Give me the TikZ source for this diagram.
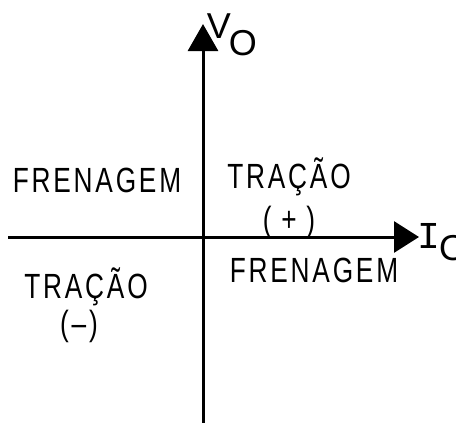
\documentclass[tikz,border=0pt]{standalone}
\usepackage{fontspec}
\setmainfont{Liberation Sans}
\newfontfamily\monof{Liberation Mono}
\newfontfamily\quadf[FakeStretch=0.75,LetterSpace=8]{Liberation Sans}
\usetikzlibrary{arrows.meta}
\begin{document}
\begin{tikzpicture}[x=1pt,y=-1pt,
  axis/.style={line width=3pt},
  quad/.style={inner sep=0pt,font=\quadf\fontsize{35}{37}\selectfont},
  lbl/.style={inner sep=0pt,font=\fontsize{36}{38}\selectfont}]
\useasboundingbox (0,0) rectangle (456,423);
\coordinate (vbot) at (203,423);
\coordinate (vtop) at (203,24);
\coordinate (hleft) at (8,237);
\coordinate (hright) at (419,237);
\draw[axis,-{Triangle[length=27pt,width=30pt]}] (vbot) -- (vtop);
\draw[axis,-{Triangle[length=25pt,width=31pt]}] (hleft) -- (hright);
\node[lbl] (v) at (219,26) {V};
\node[lbl] (vo) at (243,43) {O};
\node[lbl,font=\monof\fontsize{38}{40}\selectfont] (i) at (429,236) {I};
\node[lbl] (io) at (453,248) {O};
\node[quad] (f1) at (97,180) {FRENAGEM};
\node[quad] (t1) at (289,177) {TRAÇÃO};
\node[quad] (p1) at (289,222) {(\;+\;)};
\node[quad] (t2) at (86,287) {TRAÇÃO};
\node[quad] (m2) at (79,326) {(–)};
\node[quad] (f2) at (314,270) {FRENAGEM};
\end{tikzpicture}
\end{document}
